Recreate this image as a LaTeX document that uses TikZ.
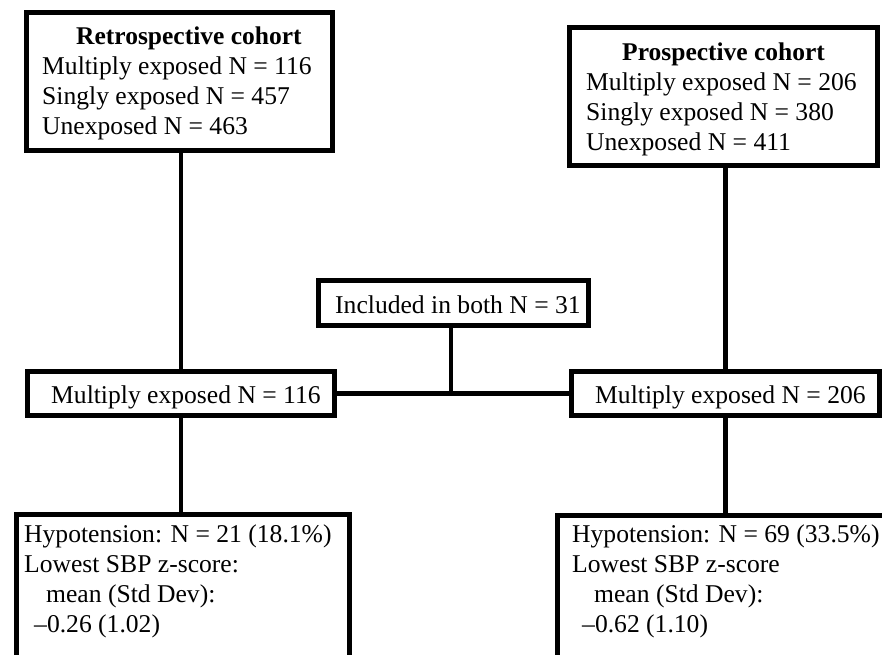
\documentclass[tikz,border=0pt]{standalone}
\usepackage{fontspec}
\setmainfont{Liberation Serif}
\begin{document}
\begin{tikzpicture}[x=1pt,y=-1pt,
  box/.style={draw=black, line width=5pt, fill=white, inner sep=0pt, rectangle},
  conn/.style={draw=black, line width=4.5pt},
  txt/.style={inner sep=0pt, align=left, font=\fontsize{25.6}{30}\selectfont, anchor=base west},
  title/.style={txt, font=\fontsize{25.5}{30}\selectfont\bfseries}]
\useasboundingbox[fill=white] (0,0) rectangle (882,654);
\clip (0,0) rectangle (882,654);
% boxes
\node[box, minimum width=306, minimum height=138] (tl) at (179.5,81.5) {};
\node[box, minimum width=308, minimum height=138] (tr) at (723.5,96.5) {};
\node[box, minimum width=270, minimum height=45] (inc) at (453.5,303) {};
\node[box, minimum width=307, minimum height=44] (ml) at (181,393.5) {};
\node[box, minimum width=308, minimum height=44] (mr) at (725.5,393.5) {};
\node[box, minimum width=333, minimum height=165] (bl) at (183,597) {};
\node[box, minimum width=342.5, minimum height=164.5] (br) at (728.75,597.75) {};
% connectors
\draw[conn] (ml.north |- tl.south) -- (ml.north);
\draw[conn] (ml.south) -- (ml.south |- bl.north);
\draw[conn] (mr.north |- tr.south) -- (mr.north);
\draw[conn] (mr.south) -- (mr.south |- br.north);
\draw[conn, line width=5.5pt] (ml.east) -- (mr.west);
\draw[conn] ([xshift=-2.5pt]inc.south) -- ([xshift=-2.5pt]inc.south |- ml.east);
% texts (base anchor = baseline of the last line)
\node[title] (tlh) at (76,44) {Retrospective cohort};
\node[txt] (tlt) at (42,134) {Multiply exposed N = 116\\Singly exposed N = 457\\Unexposed N = 463};
\node[title] (trh) at (622,60) {Prospective cohort};
\node[txt] (trt) at (586,150) {Multiply exposed N = 206\\Singly exposed N = 380\\Unexposed N = 411};
\node[txt] (inct) at (335,313) {Included in both N = 31};
\node[txt] (mlt) at (51,403) {Multiply exposed N = 116};
\node[txt] (mrt) at (595,403) {Multiply exposed N = 206};
\node[txt] (blt) at (24,632) {Hypotension: N = 21 (18.1\%)\\Lowest SBP z-score:\\\hspace*{22pt}mean (Std Dev):\\\hspace*{10pt}–0.26 (1.02)};
\node[txt] (brt) at (572,632) {Hypotension: N = 69 (33.5\%)\\Lowest SBP z-score\\\hspace*{22pt}mean (Std Dev):\\\hspace*{10pt}–0.62 (1.10)};
\end{tikzpicture}
\end{document}
